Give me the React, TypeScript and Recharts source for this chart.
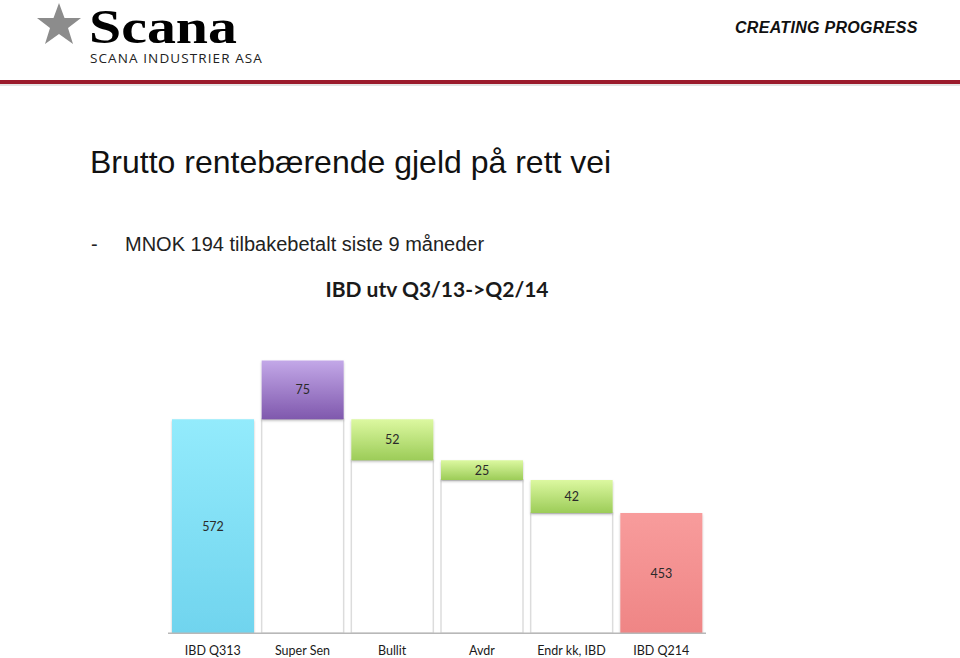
import React from "react";
import { BarChart, Bar, XAxis, YAxis, Cell, LabelList } from "recharts";

const categories = ["IBD Q313", "Super Sen", "Bullit", "Avdr", "Endr kk, IBD", "IBD Q214"];
// size of each step (shown as the bar label)
const amounts = [572, 75, 52, 25, 42, 453];
// lower edge of the floating bars (null = total bar standing on the axis)
const floatStarts = [null, 572, 520, 495, 453, null];
const axisMin = 300;
const axisMax = 700;

const fills = ["url(#gCyan)", "url(#gPurple)", "url(#gGreen)", "url(#gGreen)", "url(#gGreen)", "url(#gRed)"];

const data = categories.map((name, i) => {
  const start = floatStarts[i];
  return {
    name,
    label: amounts[i],
    box: start === null ? [axisMin, amounts[i]] : [start, start + amounts[i]],
    base: start === null ? null : [axisMin, start],
  };
});

function Header() {
  return (
    <div style={{ position: "absolute", left: 0, top: 0, width: 960, height: 90 }}>
      <svg width={960} height={90} style={{ position: "absolute", left: 0, top: 0 }}>
        <polygon
          points="59,3 64.5,18 81,18 68,28 73,44 59,34 45,44 50,28 37,18 53.5,18"
          fill="#8c8c8c"
        />
        <text
          x={89}
          y={43}
          fontFamily="Liberation Serif"
          fontWeight="bold"
          fontSize={48}
          fill="#000"
          textLength={148}
          lengthAdjust="spacingAndGlyphs"
        >
          Scana
        </text>
        <text x={90} y={63} fontFamily="Open Sans" fontSize={13.5} fill="#222" letterSpacing={1.1}>
          SCANA INDUSTRIER ASA
        </text>
        <text x={735} y={33} fontFamily="Liberation Sans" fontWeight="bold" fontStyle="italic" fontSize={16} fill="#111" letterSpacing={0.3}>
          CREATING PROGRESS
        </text>
        <rect x={0} y={80} width={960} height={4} fill="#9b1b2c" />
        <rect x={0} y={84} width={960} height={2} fill="#e4e4e4" />
      </svg>
    </div>
  );
}

export default function App() {
  return (
    <div style={{ position: "absolute", left: 0, top: 0, width: 960, height: 658, background: "#fff", overflow: "hidden" }}>
      <Header />
      <div style={{ position: "absolute", left: 90, top: 144, fontFamily: "Liberation Sans", fontSize: 32, color: "#111", whiteSpace: "nowrap" }}>
        Brutto rentebærende gjeld på rett vei
      </div>
      <div style={{ position: "absolute", left: 91, top: 233, fontFamily: "Liberation Sans", fontSize: 20, color: "#222", whiteSpace: "nowrap" }}>
        <span style={{ display: "inline-block", width: 34 }}>-</span>MNOK 194 tilbakebetalt siste 9 måneder
      </div>
      <div style={{ position: "absolute", left: 168, width: 538, top: 276, textAlign: "center", fontFamily: "Lato", fontWeight: "bold", fontSize: 21, color: "#1a1a1a" }}>
        IBD utv Q3/13-&gt;Q2/14
      </div>
      <div style={{ position: "absolute", left: 0, top: 0 }}>
        <BarChart
          width={960}
          height={658}
          data={data}
          margin={{ top: 318.7, right: 254, bottom: 4.7, left: 168 }}
        >
          <defs>
            <linearGradient id="gCyan" x1="0" y1="0" x2="0" y2="1">
              <stop offset="0%" stopColor="#93ebfc" />
              <stop offset="100%" stopColor="#70d4ee" />
            </linearGradient>
            <linearGradient id="gPurple" x1="0" y1="0" x2="0" y2="1">
              <stop offset="0%" stopColor="#c3a8e8" />
              <stop offset="100%" stopColor="#7f58ad" />
            </linearGradient>
            <linearGradient id="gGreen" x1="0" y1="0" x2="0" y2="1">
              <stop offset="0%" stopColor="#dcf8a0" />
              <stop offset="100%" stopColor="#9ccc58" />
            </linearGradient>
            <linearGradient id="gRed" x1="0" y1="0" x2="0" y2="1">
              <stop offset="0%" stopColor="#f89c9c" />
              <stop offset="100%" stopColor="#ef8585" />
            </linearGradient>
            <filter id="shadow" x="-10%" y="-10%" width="120%" height="130%">
              <feDropShadow dx="0" dy="1.5" stdDeviation="1.2" floodColor="#000" floodOpacity="0.25" />
            </filter>
          </defs>
          <XAxis
            xAxisId="main"
            dataKey="name"
            interval={0}
            tickLine={false}
            axisLine={{ stroke: "#b8b8b8", strokeWidth: 1.5 }}
            tickMargin={7}
            height={20}
            tick={{ fill: "#1a1a1a", fontSize: 12.5, fontFamily: "Lato" }}
          />
          <XAxis xAxisId="under" dataKey="name" hide />
          <YAxis domain={[axisMin, axisMax]} allowDataOverflow hide />
          <Bar
            xAxisId="under"
            dataKey="base"
            barSize={82}
            fill="#ffffff"
            stroke="#dcdcdc"
            strokeWidth={1.5}
            isAnimationActive={false}
          />
          <Bar
            xAxisId="main"
            dataKey="box"
            barSize={82}
            isAnimationActive={false}
            style={{ filter: "url(#shadow)" }}
          >
            {data.map((d, i) => (
              <Cell key={d.name} fill={fills[i]} />
            ))}
            <LabelList dataKey="label" position="center" fill="#2a2a2a" fontSize={12.5} fontFamily="Lato" />
          </Bar>
        </BarChart>
      </div>
    </div>
  );
}
